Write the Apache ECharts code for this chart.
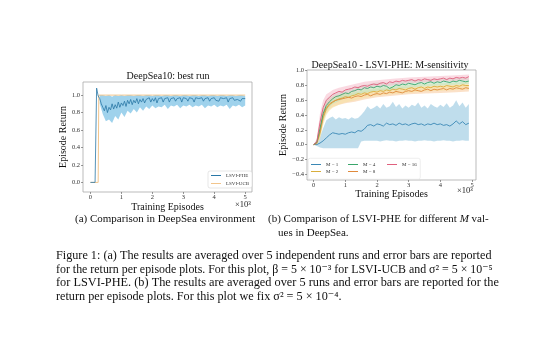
<!DOCTYPE html>
<html>
<head>
<meta charset="utf-8">
<script src="https://cdn.jsdelivr.net/npm/echarts@6.0.0/dist/echarts.min.js"></script>
<style>
  html, body { margin: 0; padding: 0; background: #fff; }
  #chart { width: 540px; height: 351px; }
</style>
</head>
<body>
<div id="chart"></div>
<script>
// ---------- (a) DeepSea10: best run ----------
const xTicks = [0, 1000, 2000, 3000, 4000, 5000]
const yTicksA = [0, 0.2, 0.4, 0.6, 0.8, 1.0]
const yTicksB = [-0.4, -0.2, 0, 0.2, 0.4, 0.6, 0.8, 1.0]

// LSVI-PHE start (before the jump), then values every 50 episodes from 250 to 5000
const pheStartX = [0, 150, 200]
const pheStartY = [0, 0, 1.08]
const pheFrom = 250
const phe = [
  0.99, 0.96, 0.90, 0.86, 0.82, 0.88, 0.80, 0.86, 0.83, 0.90,
  0.84, 0.89, 0.85, 0.92, 0.86, 0.91, 0.88, 0.93, 0.87, 0.94,
  0.90, 0.95, 0.89, 0.94, 0.91, 0.96, 0.90, 0.95, 0.92, 0.96,
  0.91, 0.95, 0.93, 0.97, 0.92, 0.96, 0.93, 0.97, 0.91, 0.96,
  0.94, 0.97, 0.92, 0.96, 0.95, 0.97, 0.92, 0.96, 0.94, 0.97,
  0.93, 0.96, 0.95, 0.97, 0.92, 0.97, 0.95, 0.96, 0.93, 0.97,
  0.95, 0.96, 0.92, 0.97, 0.95, 0.96, 0.94, 0.97, 0.93, 0.96,
  0.95, 0.97, 0.93, 0.96, 0.95, 0.97, 0.94, 0.96, 0.93, 0.97,
  0.95, 0.96, 0.94, 0.97, 0.92, 0.96, 0.95, 0.97, 0.94, 0.96,
  0.95, 0.97, 0.93, 0.96, 0.95, 0.96
]
// error band of LSVI-PHE, every 100 episodes from 300 to 5000
const pheBandFrom = 300
const pheLo = [
  0.90, 0.78, 0.70, 0.72, 0.68, 0.76, 0.72, 0.80, 0.75, 0.82,
  0.79, 0.84, 0.80, 0.86, 0.82, 0.87, 0.84, 0.88, 0.85, 0.87,
  0.86, 0.89, 0.84, 0.88, 0.87, 0.89, 0.85, 0.88, 0.87, 0.89,
  0.86, 0.88, 0.87, 0.89, 0.85, 0.88, 0.87, 0.89, 0.86, 0.88,
  0.87, 0.89, 0.84, 0.88, 0.87, 0.89, 0.86, 0.88
]
const pheHi = [
  1.00, 1.00, 0.99, 1.00, 0.98, 1.00, 0.99, 1.00, 0.99, 1.00,
  1.00, 0.99, 1.00, 1.00, 0.99, 1.00, 1.00, 0.99, 1.00, 1.00,
  0.99, 1.00, 1.00, 0.99, 1.00, 1.00, 0.99, 1.00, 1.00, 0.99,
  1.00, 1.00, 0.99, 1.00, 1.00, 0.99, 1.00, 1.00, 0.99, 1.00,
  1.00, 0.99, 1.00, 1.00, 0.99, 1.00, 1.00, 0.99
]
const ucbX = [0, 250, 270, 500, 1000, 1500, 2000, 2500, 3000, 3500, 4000, 4500, 5000]
const ucb = [0, 0, 1.0, 1.0, 1.0, 1.0, 1.0, 1.0, 1.0, 1.0, 1.0, 1.0, 1.0]

// ---------- (b) M-sensitivity, means every 100 episodes from 0 to 4900 ----------
const m1 = [
  0.00, 0.00, 0.02, 0.05, 0.09, 0.13, 0.16, 0.15, 0.14, 0.15,
  0.14, 0.16, 0.17, 0.16, 0.19, 0.18, 0.21, 0.26, 0.27, 0.25,
  0.28, 0.27, 0.25, 0.29, 0.27, 0.28, 0.26, 0.29, 0.27, 0.28,
  0.26, 0.28, 0.29, 0.27, 0.28, 0.26, 0.28, 0.27, 0.29, 0.27,
  0.28, 0.26, 0.27, 0.25, 0.28, 0.32, 0.28, 0.31, 0.27, 0.29
]
const m1Lo = [
  0.00, -0.02, -0.04, -0.05, -0.05, -0.05, -0.05, -0.05, -0.05, -0.05,
  -0.05, -0.05, -0.05, -0.05, -0.05, 0.04, 0.05, 0.05, 0.05, 0.05,
  0.05, 0.04, 0.05, 0.06, 0.05, 0.05, 0.04, 0.05, 0.05, 0.06,
  0.05, 0.05, 0.04, 0.05, 0.05, 0.06, 0.05, 0.05, 0.04, 0.05,
  0.05, 0.06, 0.05, 0.05, 0.04, 0.05, 0.05, 0.06, 0.05, 0.05
]
const m1Hi = [
  0.00, 0.03, 0.10, 0.22, 0.33, 0.36, 0.38, 0.34, 0.37, 0.35,
  0.36, 0.34, 0.37, 0.35, 0.36, 0.40, 0.45, 0.52, 0.48, 0.50,
  0.53, 0.49, 0.55, 0.50, 0.52, 0.58, 0.51, 0.55, 0.49, 0.53,
  0.50, 0.54, 0.52, 0.57, 0.50, 0.53, 0.49, 0.55, 0.52, 0.50,
  0.54, 0.51, 0.56, 0.50, 0.53, 0.60, 0.52, 0.57, 0.50, 0.55
]
const m2 = [
  0.00, 0.02, 0.15, 0.36, 0.48, 0.54, 0.57, 0.60, 0.62, 0.63,
  0.65, 0.64, 0.66, 0.67, 0.69, 0.68, 0.70, 0.69, 0.71, 0.72,
  0.71, 0.73, 0.72, 0.74, 0.73, 0.75, 0.74, 0.76, 0.75, 0.74,
  0.76, 0.77, 0.75, 0.77, 0.78, 0.76, 0.78, 0.77, 0.79, 0.78,
  0.79, 0.78, 0.80, 0.79, 0.78, 0.80, 0.79, 0.81, 0.80, 0.80
]
const m4 = [
  0.00, 0.03, 0.22, 0.42, 0.53, 0.58, 0.62, 0.65, 0.66, 0.68,
  0.70, 0.69, 0.72, 0.73, 0.75, 0.74, 0.77, 0.76, 0.78, 0.77,
  0.79, 0.78, 0.80, 0.79, 0.76, 0.78, 0.81, 0.80, 0.82, 0.81,
  0.83, 0.82, 0.81, 0.83, 0.84, 0.82, 0.84, 0.85, 0.83, 0.85,
  0.84, 0.86, 0.85, 0.84, 0.86, 0.85, 0.87, 0.86, 0.85, 0.86
]
const m8 = [
  0.00, 0.02, 0.18, 0.40, 0.50, 0.55, 0.58, 0.60, 0.61, 0.62,
  0.63, 0.64, 0.63, 0.65, 0.66, 0.65, 0.67, 0.68, 0.66, 0.68,
  0.69, 0.68, 0.70, 0.69, 0.71, 0.70, 0.72, 0.71, 0.70, 0.72,
  0.73, 0.72, 0.74, 0.73, 0.72, 0.74, 0.75, 0.73, 0.75, 0.74,
  0.75, 0.76, 0.74, 0.76, 0.75, 0.77, 0.76, 0.75, 0.77, 0.76
]
const m16 = [
  0.00, 0.04, 0.30, 0.50, 0.60, 0.64, 0.68, 0.70, 0.72, 0.71,
  0.74, 0.75, 0.76, 0.78, 0.77, 0.79, 0.80, 0.79, 0.81, 0.82,
  0.81, 0.83, 0.84, 0.82, 0.85, 0.84, 0.86, 0.85, 0.87, 0.86,
  0.87, 0.88, 0.86, 0.88, 0.87, 0.89, 0.88, 0.87, 0.89, 0.88,
  0.89, 0.90, 0.88, 0.90, 0.89, 0.91, 0.90, 0.91, 0.90, 0.92
]
// coarser error bands for M >= 2
const bandX = [0, 100, 200, 300, 400, 500, 600, 800, 1000, 1300, 1600, 2000, 2500, 3000, 3500, 4000, 4500, 4900]
const m2Lo = [0.00, 0.00, 0.07, 0.26, 0.40, 0.46, 0.50, 0.54, 0.57, 0.60, 0.63, 0.66, 0.68, 0.70, 0.72, 0.73, 0.74, 0.75]
const m2Hi = [0.00, 0.05, 0.24, 0.46, 0.56, 0.61, 0.64, 0.67, 0.70, 0.72, 0.75, 0.77, 0.79, 0.81, 0.82, 0.83, 0.84, 0.85]
const m4Lo = [0.00, 0.00, 0.12, 0.32, 0.45, 0.51, 0.55, 0.59, 0.63, 0.67, 0.70, 0.73, 0.74, 0.77, 0.79, 0.80, 0.81, 0.82]
const m4Hi = [0.00, 0.06, 0.32, 0.52, 0.61, 0.65, 0.68, 0.71, 0.74, 0.78, 0.81, 0.84, 0.84, 0.87, 0.88, 0.89, 0.90, 0.90]
const m8Lo = [0.00, 0.00, 0.09, 0.30, 0.42, 0.48, 0.51, 0.54, 0.56, 0.58, 0.61, 0.64, 0.66, 0.68, 0.69, 0.70, 0.71, 0.72]
const m8Hi = [0.00, 0.05, 0.27, 0.50, 0.58, 0.62, 0.65, 0.67, 0.69, 0.71, 0.73, 0.75, 0.77, 0.78, 0.79, 0.80, 0.81, 0.81]
const m16Lo = [0.00, 0.00, 0.18, 0.40, 0.52, 0.57, 0.62, 0.66, 0.69, 0.72, 0.75, 0.78, 0.80, 0.83, 0.84, 0.85, 0.86, 0.87]
const m16Hi = [0.00, 0.08, 0.42, 0.60, 0.68, 0.71, 0.74, 0.77, 0.79, 0.82, 0.85, 0.87, 0.89, 0.91, 0.92, 0.93, 0.94, 0.95]

const serif = '"Liberation Serif", "DejaVu Serif", serif'

// x positions (episodes)
const pheX = phe.map((_, i) => pheFrom + i * 50)
const pheBandX = pheLo.map((_, i) => pheBandFrom + i * 100)
const mX = m1.map((_, i) => i * 100)

const zip = (xs, ys) => xs.map((x, i) => [x, ys[i]])

// shaded error band drawn as one polygon through the axes' scales
function band(idx, xs, lo, hi, color, opacity) {
    return {
        type: 'custom',
        xAxisIndex: idx,
        yAxisIndex: idx,
        silent: true,
        z: 1,
        data: [[xs[0], lo[0]]],
        renderItem: (params, api) => {
            const pts = []
            xs.forEach((x, i) => pts.push(api.coord([x, hi[i]])))
            for (let i = xs.length - 1; i >= 0; i--) pts.push(api.coord([xs[i], lo[i]]))
            return {
                type: 'polygon',
                shape: { points: pts },
                style: { fill: color, opacity: opacity }
            }
        }
    }
}

function line(idx, name, data, color, width) {
    return {
        name: name,
        type: 'line',
        xAxisIndex: idx,
        yAxisIndex: idx,
        data: data,
        showSymbol: false,
        z: 3,
        lineStyle: { color: color, width: width },
        itemStyle: { color: color }
    }
}

function xAxisOf(idx, min, max, margin, gap) {
    return {
        gridIndex: idx,
        type: 'value',
        min: min,
        max: max,
        axisLine: { show: false, onZero: false },
        splitLine: { show: false },
        axisTick: { show: true, customValues: xTicks, length: 2, lineStyle: { color: '#555', width: 0.6 } },
        axisLabel: {
            customValues: xTicks,
            formatter: v => String(v / 1000),
            fontSize: 6.5, margin: margin, color: '#333', fontFamily: serif
        },
        name: 'Training Episodes',
        nameLocation: 'middle',
        nameGap: gap,
        nameTextStyle: { fontSize: 10, color: '#111', fontFamily: serif }
    }
}

function yAxisOf(idx, min, max, ticks, gap) {
    return {
        gridIndex: idx,
        type: 'value',
        min: min,
        max: max,
        axisLine: { show: false, onZero: false },
        splitLine: { show: false },
        axisTick: { show: true, customValues: ticks, length: 2, lineStyle: { color: '#555', width: 0.6 } },
        axisLabel: {
            customValues: ticks,
            formatter: v => (v < 0 ? '\u2212' : '') + Math.abs(v).toFixed(1),
            fontSize: 6.5, margin: 3, color: '#333', fontFamily: serif
        },
        name: 'Episode Return',
        nameLocation: 'middle',
        nameRotate: 90,
        nameGap: gap,
        nameTextStyle: { fontSize: 10, color: '#111', fontFamily: serif }
    }
}

function mLegend(names, left) {
    return {
        data: names,
        orient: 'vertical',
        left: left, top: 162,
        z: 6,
        icon: 'rect', itemWidth: 10, itemHeight: 1, itemGap: 2,
        padding: 0,
        textStyle: { fontSize: 5, color: '#333', fontFamily: serif }
    }
}

const chart = echarts.init(document.getElementById('chart'), null, { renderer: 'canvas' })

chart.setOption({
    backgroundColor: '#fff',
    animation: false,
    title: [
        { text: 'DeepSea10: best run', left: 168, top: 71, textAlign: 'center', padding: 0,
          textStyle: { fontSize: 10, fontWeight: 'normal', color: '#111', fontFamily: serif } },
        { text: 'DeepSea10 - LSVI-PHE: M-sensitivity', left: 390, top: 60, textAlign: 'center', padding: 0,
          textStyle: { fontSize: 10, fontWeight: 'normal', color: '#111', fontFamily: serif } }
    ],
    grid: [
        { left: 83, top: 82, width: 169, height: 110, show: true, borderColor: '#aaa', borderWidth: 0.8, backgroundColor: '#fff' },
        { left: 307, top: 70, width: 169, height: 110, show: true, borderColor: '#aaa', borderWidth: 0.8, backgroundColor: '#fff' }
    ],
    xAxis: [xAxisOf(0, -240, 5220, 2, 6), xAxisOf(1, -210, 5125, 1.5, 6)],
    yAxis: [yAxisOf(0, -0.11, 1.15, yTicksA, 10), yAxisOf(1, -0.48, 1.01, yTicksB, 14)],
    legend: [
        {
            data: ['LSVI-PHE', 'LSVI-UCB'],
            orient: 'vertical',
            left: 208, top: 171,
            icon: 'rect', itemWidth: 10, itemHeight: 1, itemGap: 3,
            padding: [2, 3], borderColor: '#ccc', borderWidth: 0.5, borderRadius: 2,
            backgroundColor: '#fff',
            textStyle: { fontSize: 5, color: '#333', fontFamily: serif }
        },
        mLegend(['M = 1', 'M = 2'], 311),
        mLegend(['M = 4', 'M = 8'], 348),
        mLegend(['M = 16'], 387)
    ],
    series: [
        band(0, pheBandX, pheLo, pheHi, '#7fc3e6', 0.75),
        line(0, 'LSVI-UCB', zip(ucbX, ucb), '#f2c58c', 1),
        line(0, 'LSVI-PHE', zip(pheStartX, pheStartY).concat(zip(pheX, phe)), '#2a77a6', 0.8),

        band(1, mX, m1Lo, m1Hi, '#a9d2e6', 0.75),
        band(1, bandX, m8Lo, m8Hi, '#f7c99a', 0.55),
        band(1, bandX, m2Lo, m2Hi, '#f6e2a0', 0.55),
        band(1, bandX, m4Lo, m4Hi, '#b5e3c4', 0.55),
        band(1, bandX, m16Lo, m16Hi, '#f6bccb', 0.55),
        line(1, 'M = 1', zip(mX, m1), '#3a88b5', 0.9),
        line(1, 'M = 2', zip(mX, m2), '#d9ae3c', 0.9),
        line(1, 'M = 8', zip(mX, m8), '#e08a3c', 0.9),
        line(1, 'M = 4', zip(mX, m4), '#3aa66b', 0.9),
        line(1, 'M = 16', zip(mX, m16), '#e0607e', 0.9)
    ],
    graphic: [
        { type: 'rect', left: 308, top: 158, z: 4, shape: { width: 112, height: 21, r: 2 },
          style: { fill: 'rgba(255,255,255,0.8)', stroke: '#ddd', lineWidth: 0.5 } },
        { type: 'text', left: 235, top: 200, style: { text: '×10³', fontSize: 8.5, fill: '#222', fontFamily: serif } },
        { type: 'text', left: 457, top: 186, style: { text: '×10³', fontSize: 8.5, fill: '#222', fontFamily: serif } },
        { type: 'text', left: 75, top: 214, style: { text: '(a) Comparison in DeepSea environment', fontSize: 11, fill: '#111', fontFamily: serif } },
        { type: 'text', left: 268, top: 214, style: {
            text: '(b) Comparison of LSVI-PHE for different {i|M} val-',
            fontSize: 11, fill: '#111', fontFamily: serif,
            rich: { i: { fontStyle: 'italic', fontSize: 11, fontFamily: serif } } } },
        { type: 'text', left: 278, top: 227.5, style: { text: 'ues in DeepSea.', fontSize: 11, fill: '#111', fontFamily: serif } },
        { type: 'text', left: 56, top: 250, style: { text: 'Figure 1: (a) The results are averaged over 5 independent runs and error bars are reported', fontSize: 12.2, fill: '#111', fontFamily: serif } },
        { type: 'text', left: 56, top: 263.5, style: { text: 'for the return per episode plots. For this plot, β = 5 × 10⁻³ for LSVI-UCB and σ² = 5 × 10⁻⁵', fontSize: 11.9, fill: '#111', fontFamily: serif } },
        { type: 'text', left: 56, top: 277, style: { text: 'for LSVI-PHE. (b) The results are averaged over 5 runs and error bars are reported for the', fontSize: 12.3, fill: '#111', fontFamily: serif } },
        { type: 'text', left: 56, top: 291, style: { text: 'return per episode plots. For this plot we fix σ² = 5 × 10⁻⁴.', fontSize: 12.2, fill: '#111', fontFamily: serif } }
    ]
})

window.addEventListener('resize', () => {
    chart.resize()
})
</script>
</body>
</html>
